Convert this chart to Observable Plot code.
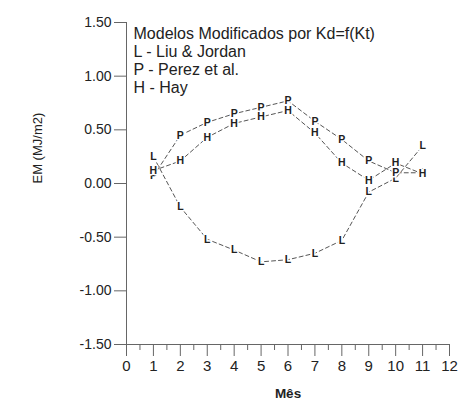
<!DOCTYPE html>
<html>
<head>
<meta charset="utf-8">
<script src="https://cdn.jsdelivr.net/npm/d3@7"></script>
<script src="https://cdn.jsdelivr.net/npm/@observablehq/plot@0.6"></script>
<style>
  html, body { margin: 0; padding: 0; background: #fff; }
  svg { display: block; }
</style>
</head>
<body>
<div id="chart"></div>
<script>
const months = [1, 2, 3, 4, 5, 6, 7, 8, 9, 10, 11];
const liuJordan = [0.25, -0.22, -0.52, -0.62, -0.73, -0.71, -0.65, -0.53, -0.08, 0.05, 0.35];
const perez =     [0.07, 0.45, 0.57, 0.65, 0.71, 0.77, 0.58, 0.41, 0.21, 0.10, 0.10];
const hay =       [0.12, 0.21, 0.43, 0.56, 0.62, 0.68, 0.47, 0.19, 0.03, 0.19, 0.09];
const series = [
  {key: "L", values: liuJordan},
  {key: "P", values: perez},
  {key: "H", values: hay}
];
const yTicks = [-1.5, -1, -0.5, 0, 0.5, 1, 1.5];
const xTicks = [0, 1, 2, 3, 4, 5, 6, 7, 8, 9, 10, 11, 12];
const xMinor = [0.5, 1.5, 2.5, 3.5, 4.5, 5.5, 6.5, 7.5, 8.5, 9.5, 10.5, 11.5];
const legendLines = [
  "Modelos Modificados por Kd=f(Kt)",
  "L - Liu & Jordan",
  "P - Perez et al.",
  "H - Hay"
];
const xLabel = "Mês";
const yLabel = "EM (MJ/m2)";

const data = series.flatMap(s => s.values.map((v, i) => ({key: s.key, month: months[i], value: v})));

const axisColor = "#666";
const font = "Liberation Sans, Arial, sans-serif";

const legendMarks = legendLines.map((t, i) =>
  Plot.text([t], {frameAnchor: "top-left", text: d => d, dx: 7, dy: 5 + i * 18,
    fontSize: 16, fill: "#222", textAnchor: "start", lineAnchor: "top"}));

const chart = Plot.plot({
  width: 458,
  height: 403,
  marginLeft: 126,
  marginRight: 9,
  marginTop: 22,
  marginBottom: 59,
  style: {fontFamily: font, background: "#fff"},
  x: {domain: [0, 12]},
  y: {domain: [-1.5, 1.5]},
  marks: [
    Plot.ruleX([0], {stroke: axisColor, y1: -1.5, y2: 1.5}),
    Plot.ruleY([-1.5], {stroke: axisColor, x1: 0, x2: 12}),
    Plot.axisY({ticks: yTicks, tickSize: 12, tickPadding: 3, tickFormat: d => d.toFixed(2),
      stroke: axisColor, fill: "#222", fontSize: 14, label: null}),
    Plot.axisX({ticks: xTicks, tickSize: 12, tickPadding: 4, tickFormat: d => String(d),
      stroke: axisColor, fill: "#222", fontSize: 15, label: null}),
    Plot.axisX({ticks: xMinor, tickSize: 6, tickFormat: () => "", stroke: axisColor, label: null}),
    Plot.line(data, {x: "month", y: "value", z: "key", stroke: "#555", strokeWidth: 1, strokeDasharray: "4,3"}),
    Plot.text(data, {x: "month", y: "value", text: "key", fontWeight: "bold", fontSize: 10.5,
      fill: "#222", stroke: "white", strokeWidth: 3}),
    ...legendMarks,
    Plot.text([yLabel], {frameAnchor: "left", text: d => d, rotate: -90, dx: -89, fontSize: 13, fill: "#222"}),
    Plot.text([xLabel], {frameAnchor: "bottom", text: d => d, dy: 53, fontSize: 13.5, fontWeight: "bold", fill: "#222"})
  ]
});
document.getElementById("chart").appendChild(chart);
</script>
</body>
</html>
